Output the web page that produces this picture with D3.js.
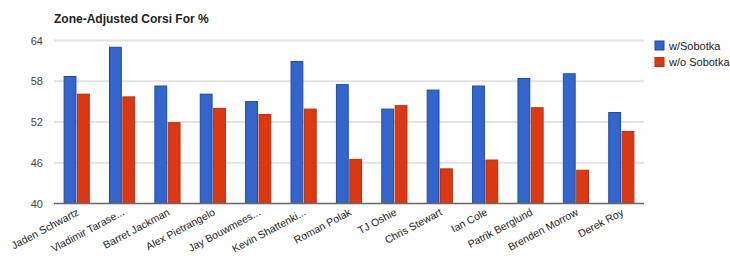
<html>
<head>
<script src="https://d3js.org/d3.v7.min.js"></script>
<style>
  body { margin: 0; background: #fff; }
  text { font-family: Arial, "Liberation Sans", sans-serif; }
</style>
</head>
<body>
<svg width="730" height="256"></svg>
<script>
// chart data
var players = ["Jaden Schwartz", "Vladimir Tarase...", "Barret Jackman", "Alex Pietrangelo",
  "Jay Bouwmees...", "Kevin Shattenki...", "Roman Polak", "TJ Oshie", "Chris Stewart",
  "Ian Cole", "Patrik Berglund", "Brenden Morrow", "Derek Roy"];
var withSobotka    = [58.7, 63.0, 57.3, 56.1, 55.0, 60.9, 57.5, 53.9, 56.7, 57.3, 58.4, 59.1, 53.4];
var withoutSobotka = [56.1, 55.7, 51.9, 54.0, 53.1, 53.9, 46.5, 54.4, 45.1, 46.4, 54.1, 44.9, 50.6];
var seriesNames = ["w/Sobotka", "w/o Sobotka"];
var yTicks = [40, 46, 52, 58, 64];

var colors = ["#3366cc", "#dc3912"];
var strokes = ["#1d4aa6", "#b8300e"];

var svg = d3.select("svg");
var plotLeft = 54, plotRight = 644, plotTop = 40.5, plotBottom = 203.5;

var x0 = d3.scaleBand().domain(players).range([plotLeft, plotRight]).paddingInner(0.4).paddingOuter(0.2);
var x1 = d3.scaleBand().domain([0, 1]).range([0, x0.bandwidth()]).padding(0.04);
var y = d3.scaleLinear().domain([40, 64]).range([plotBottom, plotTop]);

// title
svg.append("text").attr("x", 54).attr("y", 23)
  .style("font-size", "12px").style("font-weight", "bold").attr("fill", "#222")
  .text("Zone-Adjusted Corsi For %");

// gridlines + y labels
svg.append("g").selectAll("line").data(yTicks.slice(1)).enter().append("line")
  .attr("x1", plotLeft).attr("x2", plotRight)
  .attr("y1", function(d) { return y(d); }).attr("y2", function(d) { return y(d); })
  .attr("stroke", "#e2e2e2").attr("stroke-width", 2);

svg.append("g").selectAll("text").data(yTicks).enter().append("text")
  .attr("x", 43).attr("y", function(d) { return y(d) + 4; })
  .attr("text-anchor", "end").style("font-size", "11px").attr("fill", "#444")
  .text(function(d) { return d; });

// bars
var groups = svg.append("g").selectAll("g").data(players).enter().append("g")
  .attr("transform", function(d) { return "translate(" + x0(d) + ",0)"; });

groups.selectAll("rect").data(function(d, i) { return [withSobotka[i], withoutSobotka[i]]; })
  .enter().append("rect")
  .attr("x", function(d, j) { return x1(j) + 0.5; })
  .attr("y", function(d) { return y(d); })
  .attr("width", x1.bandwidth() - 1)
  .attr("height", function(d) { return plotBottom - y(d); })
  .attr("fill", function(d, j) { return colors[j]; })
  .attr("stroke", function(d, j) { return strokes[j]; })
  .attr("stroke-width", 1);

// baseline
svg.append("line").attr("x1", plotLeft).attr("x2", plotRight)
  .attr("y1", plotBottom).attr("y2", plotBottom)
  .attr("stroke", "#666").attr("stroke-width", 1.5);

// x labels, rotated
svg.append("g").selectAll("text").data(players).enter().append("text")
  .attr("transform", function(d) {
    return "translate(" + (x0(d) + x0.bandwidth() / 2 + 3) + "," + (plotBottom + 11) + ") rotate(-28)";
  })
  .attr("text-anchor", "end").style("font-size", "10.5px").attr("fill", "#222")
  .text(function(d) { return d; });

// legend
var legend = svg.append("g").selectAll("g").data(seriesNames).enter().append("g")
  .attr("transform", function(d, i) { return "translate(655," + (41 + i * 16.5) + ")"; });
legend.append("rect").attr("width", 9).attr("height", 9)
  .attr("fill", function(d, i) { return colors[i]; })
  .attr("stroke", function(d, i) { return strokes[i]; });
legend.append("text").attr("x", 14).attr("y", 8.5)
  .style("font-size", "11px").attr("fill", "#222")
  .text(function(d) { return d; });
</script>
</body>
</html>
